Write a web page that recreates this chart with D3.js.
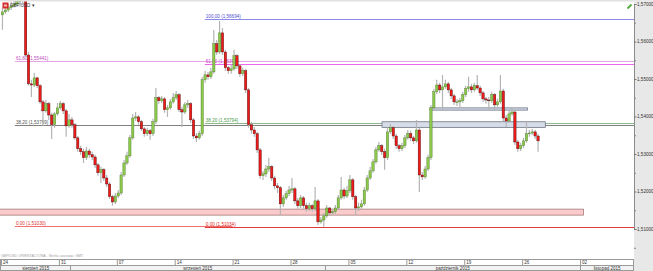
<!DOCTYPE html>
<html>
<head>
<meta charset="utf-8">
<script src="https://cdn.jsdelivr.net/npm/d3@7"></script>
<style>
body{margin:0;background:#fff;}
svg{display:block;font-family:"Liberation Sans",Arial,sans-serif;}
</style>
</head>
<body>
<svg id="chart" width="653" height="271"></svg>
<script>
// GBP/USD, 6h candles, one line = one trading day
var firstOpen = 1.5671;
var closes = [
 1.5679,1.5684,1.5690,1.5695, 1.5700,1.5706,1.5716,1.5711, 1.5564,1.5487,1.5484,1.5503,
 1.5482,1.5439,1.5415,1.5434, 1.5404,1.5378,1.5407,1.5423, 1.5434,1.5415,1.5375,1.5391,
 1.5378,1.5343,1.5314,1.5306, 1.5290,1.5308,1.5298,1.5292, 1.5271,1.5250,1.5258,1.5236,
 1.5220,1.5186,1.5172,1.5188, 1.5196,1.5244,1.5276,1.5295, 1.5343,1.5396,1.5399,1.5386,
 1.5367,1.5354,1.5362,1.5354, 1.5386,1.5450,1.5442,1.5447, 1.5418,1.5423,1.5439,1.5450,
 1.5458,1.5418,1.5412,1.5431, 1.5434,1.5391,1.5348,1.5343, 1.5354,1.5498,1.5511,1.5506,
 1.5519,1.5594,1.5572,1.5623, 1.5572,1.5530,1.5522,1.5527, 1.5562,1.5535,1.5514,1.5522,
 1.5471,1.5378,1.5364,1.5354, 1.5311,1.5242,1.5247,1.5260, 1.5266,1.5236,1.5215,1.5210,
 1.5167,1.5183,1.5194,1.5204, 1.5207,1.5175,1.5162,1.5183, 1.5162,1.5154,1.5162,1.5154,
 1.5175,1.5119,1.5124,1.5135, 1.5156,1.5143,1.5146,1.5156, 1.5183,1.5204,1.5188,1.5202,
 1.5231,1.5186,1.5156,1.5159, 1.5167,1.5204,1.5236,1.5255, 1.5279,1.5311,1.5322,1.5306,
 1.5290,1.5359,1.5370,1.5348, 1.5322,1.5314,1.5322,1.5343, 1.5354,1.5343,1.5335,1.5364,
 1.5244,1.5239,1.5260,1.5290, 1.5423,1.5466,1.5484,1.5471, 1.5479,1.5487,1.5471,1.5455,
 1.5439,1.5439,1.5442,1.5458, 1.5474,1.5479,1.5471,1.5482, 1.5476,1.5463,1.5447,1.5444,
 1.5442,1.5458,1.5431,1.5439, 1.5468,1.5396,1.5388,1.5407, 1.5412,1.5332,1.5314,1.5322,
 1.5335,1.5354,1.5356,1.5359, 1.5348,1.5335
];
var highs = [
 1.5690,1.5695,1.5700,1.5706, 1.5711,1.5719,1.5727,1.5727, 1.5716,1.5572,1.5498,1.5516,
 1.5506,1.5487,1.5444,1.5444, 1.5439,1.5410,1.5412,1.5436, 1.5442,1.5439,1.5420,1.5407,
 1.5399,1.5383,1.5348,1.5322, 1.5314,1.5319,1.5314,1.5306, 1.5298,1.5276,1.5266,1.5263,
 1.5244,1.5226,1.5191,1.5196, 1.5204,1.5252,1.5284,1.5306, 1.5351,1.5407,1.5412,1.5404,
 1.5391,1.5372,1.5370,1.5367, 1.5394,1.5476,1.5455,1.5455, 1.5452,1.5431,1.5447,1.5463,
 1.5468,1.5463,1.5426,1.5439, 1.5444,1.5439,1.5396,1.5356, 1.5362,1.5506,1.5522,1.5519,
 1.5530,1.5631,1.5604,1.5655, 1.5636,1.5578,1.5535,1.5538, 1.5578,1.5567,1.5540,1.5530,
 1.5527,1.5476,1.5386,1.5372, 1.5359,1.5316,1.5255,1.5271, 1.5290,1.5271,1.5242,1.5223,
 1.5215,1.5191,1.5202,1.5215, 1.5236,1.5212,1.5183,1.5191, 1.5188,1.5170,1.5170,1.5167,
 1.5212,1.5180,1.5132,1.5143, 1.5164,1.5159,1.5154,1.5164, 1.5191,1.5239,1.5210,1.5215,
 1.5244,1.5236,1.5191,1.5170, 1.5178,1.5212,1.5244,1.5266, 1.5287,1.5319,1.5332,1.5327,
 1.5314,1.5370,1.5380,1.5375, 1.5354,1.5327,1.5330,1.5351, 1.5364,1.5362,1.5348,1.5391,
 1.5370,1.5252,1.5268,1.5298, 1.5431,1.5474,1.5498,1.5490, 1.5511,1.5498,1.5492,1.5476,
 1.5460,1.5447,1.5450,1.5466, 1.5482,1.5506,1.5487,1.5490, 1.5511,1.5482,1.5468,1.5452,
 1.5452,1.5466,1.5463,1.5447, 1.5511,1.5474,1.5404,1.5415, 1.5423,1.5418,1.5338,1.5330,
 1.5343,1.5386,1.5364,1.5367, 1.5364,1.5354
];
var lows = [
 1.5631,1.5674,1.5679,1.5684, 1.5690,1.5695,1.5700,1.5698, 1.5559,1.5482,1.5452,1.5479,
 1.5476,1.5434,1.5375,1.5410, 1.5391,1.5340,1.5370,1.5402, 1.5418,1.5407,1.5346,1.5370,
 1.5370,1.5338,1.5306,1.5298, 1.5276,1.5284,1.5290,1.5284, 1.5263,1.5242,1.5223,1.5228,
 1.5212,1.5180,1.5162,1.5167, 1.5183,1.5191,1.5239,1.5271, 1.5290,1.5338,1.5388,1.5378,
 1.5362,1.5346,1.5348,1.5338, 1.5348,1.5380,1.5434,1.5436, 1.5410,1.5399,1.5418,1.5434,
 1.5444,1.5412,1.5372,1.5407, 1.5423,1.5383,1.5340,1.5332, 1.5338,1.5348,1.5490,1.5498,
 1.5500,1.5514,1.5564,1.5567, 1.5564,1.5522,1.5514,1.5514, 1.5522,1.5527,1.5506,1.5508,
 1.5463,1.5370,1.5354,1.5346, 1.5303,1.5234,1.5231,1.5239, 1.5252,1.5228,1.5207,1.5196,
 1.5138,1.5159,1.5178,1.5188, 1.5196,1.5167,1.5154,1.5156, 1.5154,1.5146,1.5148,1.5146,
 1.5148,1.5111,1.5114,1.5106, 1.5130,1.5135,1.5138,1.5140, 1.5151,1.5178,1.5180,1.5183,
 1.5196,1.5178,1.5138,1.5148, 1.5154,1.5162,1.5199,1.5231, 1.5250,1.5274,1.5306,1.5298,
 1.5258,1.5284,1.5354,1.5340, 1.5314,1.5306,1.5308,1.5316, 1.5338,1.5335,1.5327,1.5330,
 1.5199,1.5231,1.5234,1.5255, 1.5284,1.5418,1.5460,1.5463, 1.5418,1.5474,1.5463,1.5447,
 1.5431,1.5428,1.5423,1.5436, 1.5452,1.5466,1.5463,1.5466, 1.5471,1.5455,1.5439,1.5434,
 1.5418,1.5436,1.5418,1.5426, 1.5434,1.5388,1.5372,1.5383, 1.5402,1.5324,1.5306,1.5308,
 1.5316,1.5330,1.5346,1.5351, 1.5340,1.5306
];

// time axis (trading days from Mon 24 Aug)
var dayTicks = [0, 5, 10, 15, 20, 25, 30, 35, 40, 45, 50];
var dayLabels = ["24", "31", "07", "14", "21", "28", "05", "12", "19", "26", "02"];
var monthEdges = [0, 6, 28, 50, 54.66];
var monthLabels = ["sierpień 2015", "wrzesień 2015", "październik 2015", "listopad 2015"];
var priceTicks = [1.51, 1.52, 1.53, 1.54, 1.55, 1.56, 1.57];
var priceMinor = [1.505, 1.515, 1.525, 1.535, 1.545, 1.555, 1.565];

// fibonacci sets
var fibA_labels = ["61,80 (1,55441)", "38,20 (1,53769)", "0,00 (1,51030)"];
var fibA_levels = [1.5548, 1.5378, 1.5108];
var fibA_start = 1.2;
var fibA_end = [54.66, 54.66, 20];
var fibB_labels = ["100,00 (1,56694)", "61,80 (1,55394)", "38,20 (1,53794)", "0,00 (1,51034)"];
var fibB_levels = [1.5660, 1.5540, 1.5383, 1.5106];
var fibB_start = 17.6;

// zones
var zoneStart = [-1, 32.9, 37.05];
var zoneEnd = [50.3, 47.0, 45.47];
var zoneTop = [1.5153, 1.5386, 1.5423];
var zoneBottom = [1.5137, 1.5371, 1.5417];

var fibA_col = [["#c04cc0", "#e6a6e6"], ["#555", "#808080"], ["#e03030", "#f07070"]];
var fibB_col = [["#4d4dd0", "#8a8ae6"], ["#d040d0", "#ee66ee"], ["#4a9a4a", "#8cb88c"], ["#e02020", "#e23a3a"]];
var zoneCol = [["#fbcaca", "#a57a7a"], ["#d6dce8", "#6f7787"], ["#d6dce8", "#6f7787"]];

var svg = d3.select("#chart");
var plotR = 634, plotB = 258;

var x = d3.scaleLinear().domain([0, 54.66]).range([1, plotR]);
var y = d3.scaleLinear().domain([1.51, 1.57]).range([229, 4]);

svg.append("rect").attr("width", 653).attr("height", 271).attr("fill", "#fff");
svg.append("defs").append("clipPath").attr("id", "clip")
  .append("rect").attr("x", 0).attr("y", 0).attr("width", plotR).attr("height", plotB);

var plot = svg.append("g").attr("clip-path", "url(#clip)");

// fib lines
function fibSet(labels, levels, start, ends, cols){
  levels.forEach(function(v, i){
    var e = ends ? ends[i] : 54.66;
    plot.append("line")
      .attr("x1", x(start)).attr("x2", x(e))
      .attr("y1", Math.round(y(v)) + 0.5).attr("y2", Math.round(y(v)) + 0.5)
      .attr("stroke", cols[i][1]).attr("stroke-width", 1);
    plot.append("text")
      .attr("x", x(start) + 1).attr("y", Math.round(y(v)) - 0.8)
      .attr("fill", cols[i][0]).style("font-size", "4.6px")
      .text(labels[i]);
  });
}
fibSet(fibA_labels, fibA_levels, fibA_start, fibA_end, fibA_col);
fibSet(fibB_labels, fibB_levels, fibB_start, null, fibB_col);

// zones
zoneStart.forEach(function(s, i){
  plot.append("rect")
    .attr("x", x(s)).attr("y", y(zoneTop[i]))
    .attr("width", x(zoneEnd[i]) - x(s))
    .attr("height", y(zoneBottom[i]) - y(zoneTop[i]))
    .attr("fill", zoneCol[i][0]).attr("stroke", zoneCol[i][1]).attr("stroke-width", 0.8);
});

// candles
var candles = closes.map(function(c, i){
  return {i: i, o: i ? closes[i - 1] : firstOpen, c: c, h: highs[i], l: lows[i]};
});
function cx(d){ return x((d.i + 0.5) / 4); }

plot.selectAll(".wick").data(candles).enter().append("line")
  .attr("x1", cx).attr("x2", cx)
  .attr("y1", function(d){ return y(d.h); })
  .attr("y2", function(d){ return y(d.l); })
  .attr("stroke", "#b4b4b4").attr("stroke-width", 1.2);

plot.selectAll(".body").data(candles).enter().append("rect")
  .attr("x", function(d){ return cx(d) - 1.2; })
  .attr("width", 2.4)
  .attr("y", function(d){ return y(Math.max(d.o, d.c)); })
  .attr("height", function(d){ return Math.max(0.8, Math.abs(y(d.o) - y(d.c))); })
  .attr("fill", function(d){ return d.c >= d.o ? "#8cc84b" : "#ee1b1b"; })
  .attr("stroke", function(d){ return d.c >= d.o ? "#4e7a2a" : "#4a0a0a"; })
  .attr("stroke-width", 0.4);

// top strip, instrument label, pencil
svg.append("rect").attr("x", 0).attr("y", 0).attr("width", plotR).attr("height", 1.5).attr("fill", "#e2e2e2");
svg.append("rect").attr("x", 2.5).attr("y", 2.5).attr("width", 6).attr("height", 6).attr("fill", "#d42a2a");
svg.append("rect").attr("x", 4).attr("y", 4.5).attr("width", 3).attr("height", 2).attr("fill", "#f4c0c0");
svg.append("text").attr("x", 10).attr("y", 7.3).style("font-size", "4.5px").attr("fill", "#333").text("GBP/USD \u25be");
svg.append("line").attr("x1", 627.5).attr("y1", 8.5).attr("x2", 631.5).attr("y2", 4.5)
  .attr("stroke", "#52a83a").attr("stroke-width", 1.8);

// footnote
svg.append("text").attr("x", 1).attr("y", 257).style("font-size", "3.6px").attr("fill", "#a0a0a0")
  .text("GBP/USD ORIENTACYJNA - Strefa czasowa: GMT");

// right price axis
svg.append("rect").attr("x", plotR).attr("y", 0).attr("width", 653 - plotR).attr("height", 271).attr("fill", "#e8e8e8");
var ay = svg.append("g").attr("transform", "translate(" + plotR + ",0)")
  .call(d3.axisRight(y).tickValues(priceTicks).tickSize(2.5)
    .tickFormat(function(d){ return d.toFixed(5).replace(".", ","); }));
ay.select(".domain").attr("stroke", "#8a8a8a");
ay.selectAll(".tick line").attr("stroke", "#777");
ay.selectAll("text").attr("x", 3).style("font-size", "4.6px").attr("fill", "#333");
svg.append("g").attr("transform", "translate(" + plotR + ",0)")
  .call(d3.axisRight(y).tickValues(priceMinor).tickSize(2).tickFormat(""))
  .call(function(g){ g.select(".domain").remove(); g.selectAll("line").attr("stroke", "#888"); });

// bottom time axis
svg.append("rect").attr("x", 0.5).attr("y", 259.5).attr("width", plotR - 1).attr("height", 6)
  .attr("fill", "#fff").attr("stroke", "#9a9a9a").attr("stroke-width", 1);
svg.append("rect").attr("x", 0.5).attr("y", 265.5).attr("width", plotR - 1).attr("height", 5)
  .attr("fill", "#f3f3f3").attr("stroke", "#9a9a9a").attr("stroke-width", 1);

var ax = svg.append("g").attr("transform", "translate(0,259.5)")
  .call(d3.axisBottom(x).tickValues(dayTicks).tickSize(6)
    .tickFormat(function(d, i){ return dayLabels[i]; }));
ax.select(".domain").remove();
ax.selectAll(".tick line").attr("stroke", "#9a9a9a");
ax.selectAll("text").attr("x", 1.5).attr("y", 1.2).attr("dy", "0.75em")
  .attr("text-anchor", "start").style("font-size", "4.5px").attr("fill", "#333");

monthLabels.forEach(function(m, i){
  if(i > 0){
    svg.append("line").attr("x1", Math.round(x(monthEdges[i])) + 0.5).attr("x2", Math.round(x(monthEdges[i])) + 0.5)
      .attr("y1", 265.5).attr("y2", 271).attr("stroke", "#9a9a9a");
  }
  svg.append("text")
    .attr("x", i == 0 ? x(3) : (x(monthEdges[i]) + x(monthEdges[i + 1])) / 2)
    .attr("y", 269.8).attr("text-anchor", "middle")
    .style("font-size", "4.5px").attr("fill", "#333").text(m);
});
</script>
</body>
</html>
